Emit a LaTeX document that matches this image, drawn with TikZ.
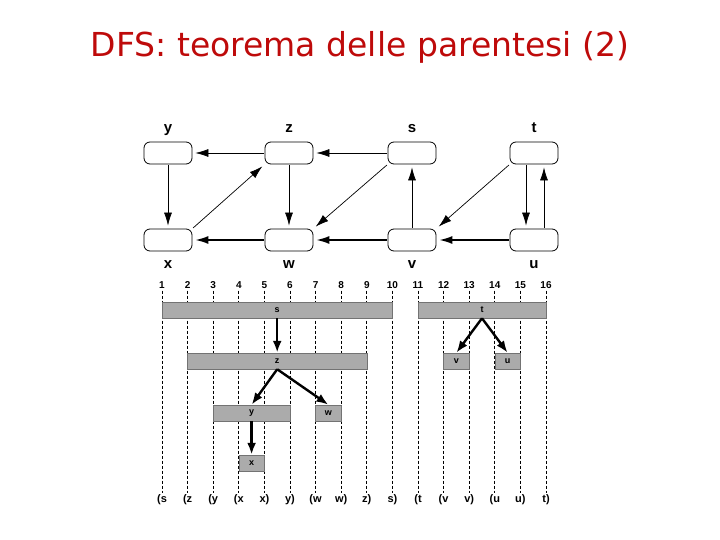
\documentclass[tikz,border=0pt]{standalone}
\usepackage{fontspec}
\setmainfont{Liberation Sans}
\newfontfamily\titlefont{DejaVu Sans}
\usetikzlibrary{arrows.meta}
\definecolor{titlered}{RGB}{190,10,10}
\newcommand{\opar}{(}

\begin{document}
\begin{tikzpicture}[x=1pt, y=-1pt,
    V/.style = {rectangle, rounded corners=6pt, draw, line width=0.8pt,% vertices of the graph
                minimum width=48pt, minimum height=22pt, inner sep=0pt},
    L/.style = {font=\fontsize{15}{17}\selectfont\bfseries, inner sep=1pt, label distance=5pt,
                text height=11pt, text depth=3pt},
    E/.style = {-{Latex[length=13pt,width=8pt]}, line width=0.7pt,
                shorten >=3pt, shorten <=1pt},
   EE/.style = {E, line width=1.5pt},
    B/.style = {rectangle, fill=black!33, draw=black!55, line width=0.5pt,% bars of the time line
                minimum height=16pt, inner sep=0pt,
                font=\fontsize{9}{10}\selectfont\bfseries},
    A/.style = {-{Latex[length=12pt,width=9pt]}, line width=2.4pt},
    N/.style = {font=\fontsize{10}{12}\selectfont\bfseries, inner sep=2pt},
    G/.style = {dash pattern=on 3pt off 2pt, line width=0.8pt},
                        ]
\useasboundingbox (0,0) rectangle (720,540);
\node[font=\titlefont\fontsize{33}{40}\selectfont, text=titlered] (title) at (360,47)
     {DFS: teorema delle parentesi (2)};
% graph
\node[V, label={[L]above:y}] (y) at (168,153) {};
\node[V, label={[L]above:z}] (z) at (289,153) {};
\node[V, label={[L]above:s}] (s) at (412,153) {};
\node[V, label={[L]above:t}] (t) at (534,153) {};
\node[V, label={[L]below:x}] (x) at (168,240) {};
\node[V, label={[L]below:w}] (w) at (289,240) {};
\node[V, label={[L]below:v}] (v) at (412,240) {};
\node[V, label={[L]below:u}] (u) at (534,240) {};
\draw[E] (z) -- (y);
\draw[E] (s) -- (z);
\draw[E] (y) -- (x);
\draw[E] (x.north east) -- (z.south west);
\draw[E] (z) -- (w);
\draw[E] (s.south west) -- (w.north east);
\draw[E] (v) -- (s);
\draw[E] (t.south west) -- (v.north east);
\draw[E] ([xshift=-8pt]t.south) -- ([xshift=-8pt]u.north);
\draw[E] ([xshift=10pt]u.north) -- ([xshift=10pt]t.south);
\draw[EE] (w) -- (x);
\draw[EE] (v) -- (w);
\draw[EE] (u) -- (v);
% time line
\foreach \i in {1,...,16}% <-- discovery and finishing times
    \node[N] (n\i) at ({162+25.6*(\i-1)},285) {\i};
\foreach \l [count=\i] in {\opar s,\opar z,\opar y,\opar x,x),y),\opar w,w),z),s),
                           \opar t,\opar v,v),\opar u,u),t)}
    \node[N, font=\fontsize{11}{13}\selectfont\bfseries] (p\i) at ({162+25.6*(\i-1)},500) {\l};
\foreach \i in {1,...,16}
    \draw[G] (n\i) -- (p\i);
\node[B, minimum width=230.4pt] (bs) at (277.2,310) {s};
\node[B, minimum width=128pt]   (bt) at (482,310)   {t};
\node[B, minimum width=179.2pt] (bz) at (277.2,361) {z};
\node[B, minimum width=25.6pt]  (bv) at (456.4,361) {v};
\node[B, minimum width=25.6pt]  (bu) at (507.6,361) {u};
\node[B, minimum width=76.8pt]  (by) at (251.6,413) {y};
\node[B, minimum width=25.6pt]  (bw) at (328.4,413) {w};
\node[B, minimum width=25.6pt]  (bx) at (251.6,463) {x};
\draw[A] (bs.south) -- (bz.north);
\draw[A] (bz.south) -- (by.north);
\draw[A] (bz.south) -- (bw.north);
\draw[A] (by.south) -- (bx.north);
\draw[A] (bt.south) -- (bv.north);
\draw[A] (bt.south) -- (bu.north);
\end{tikzpicture}
\end{document}
